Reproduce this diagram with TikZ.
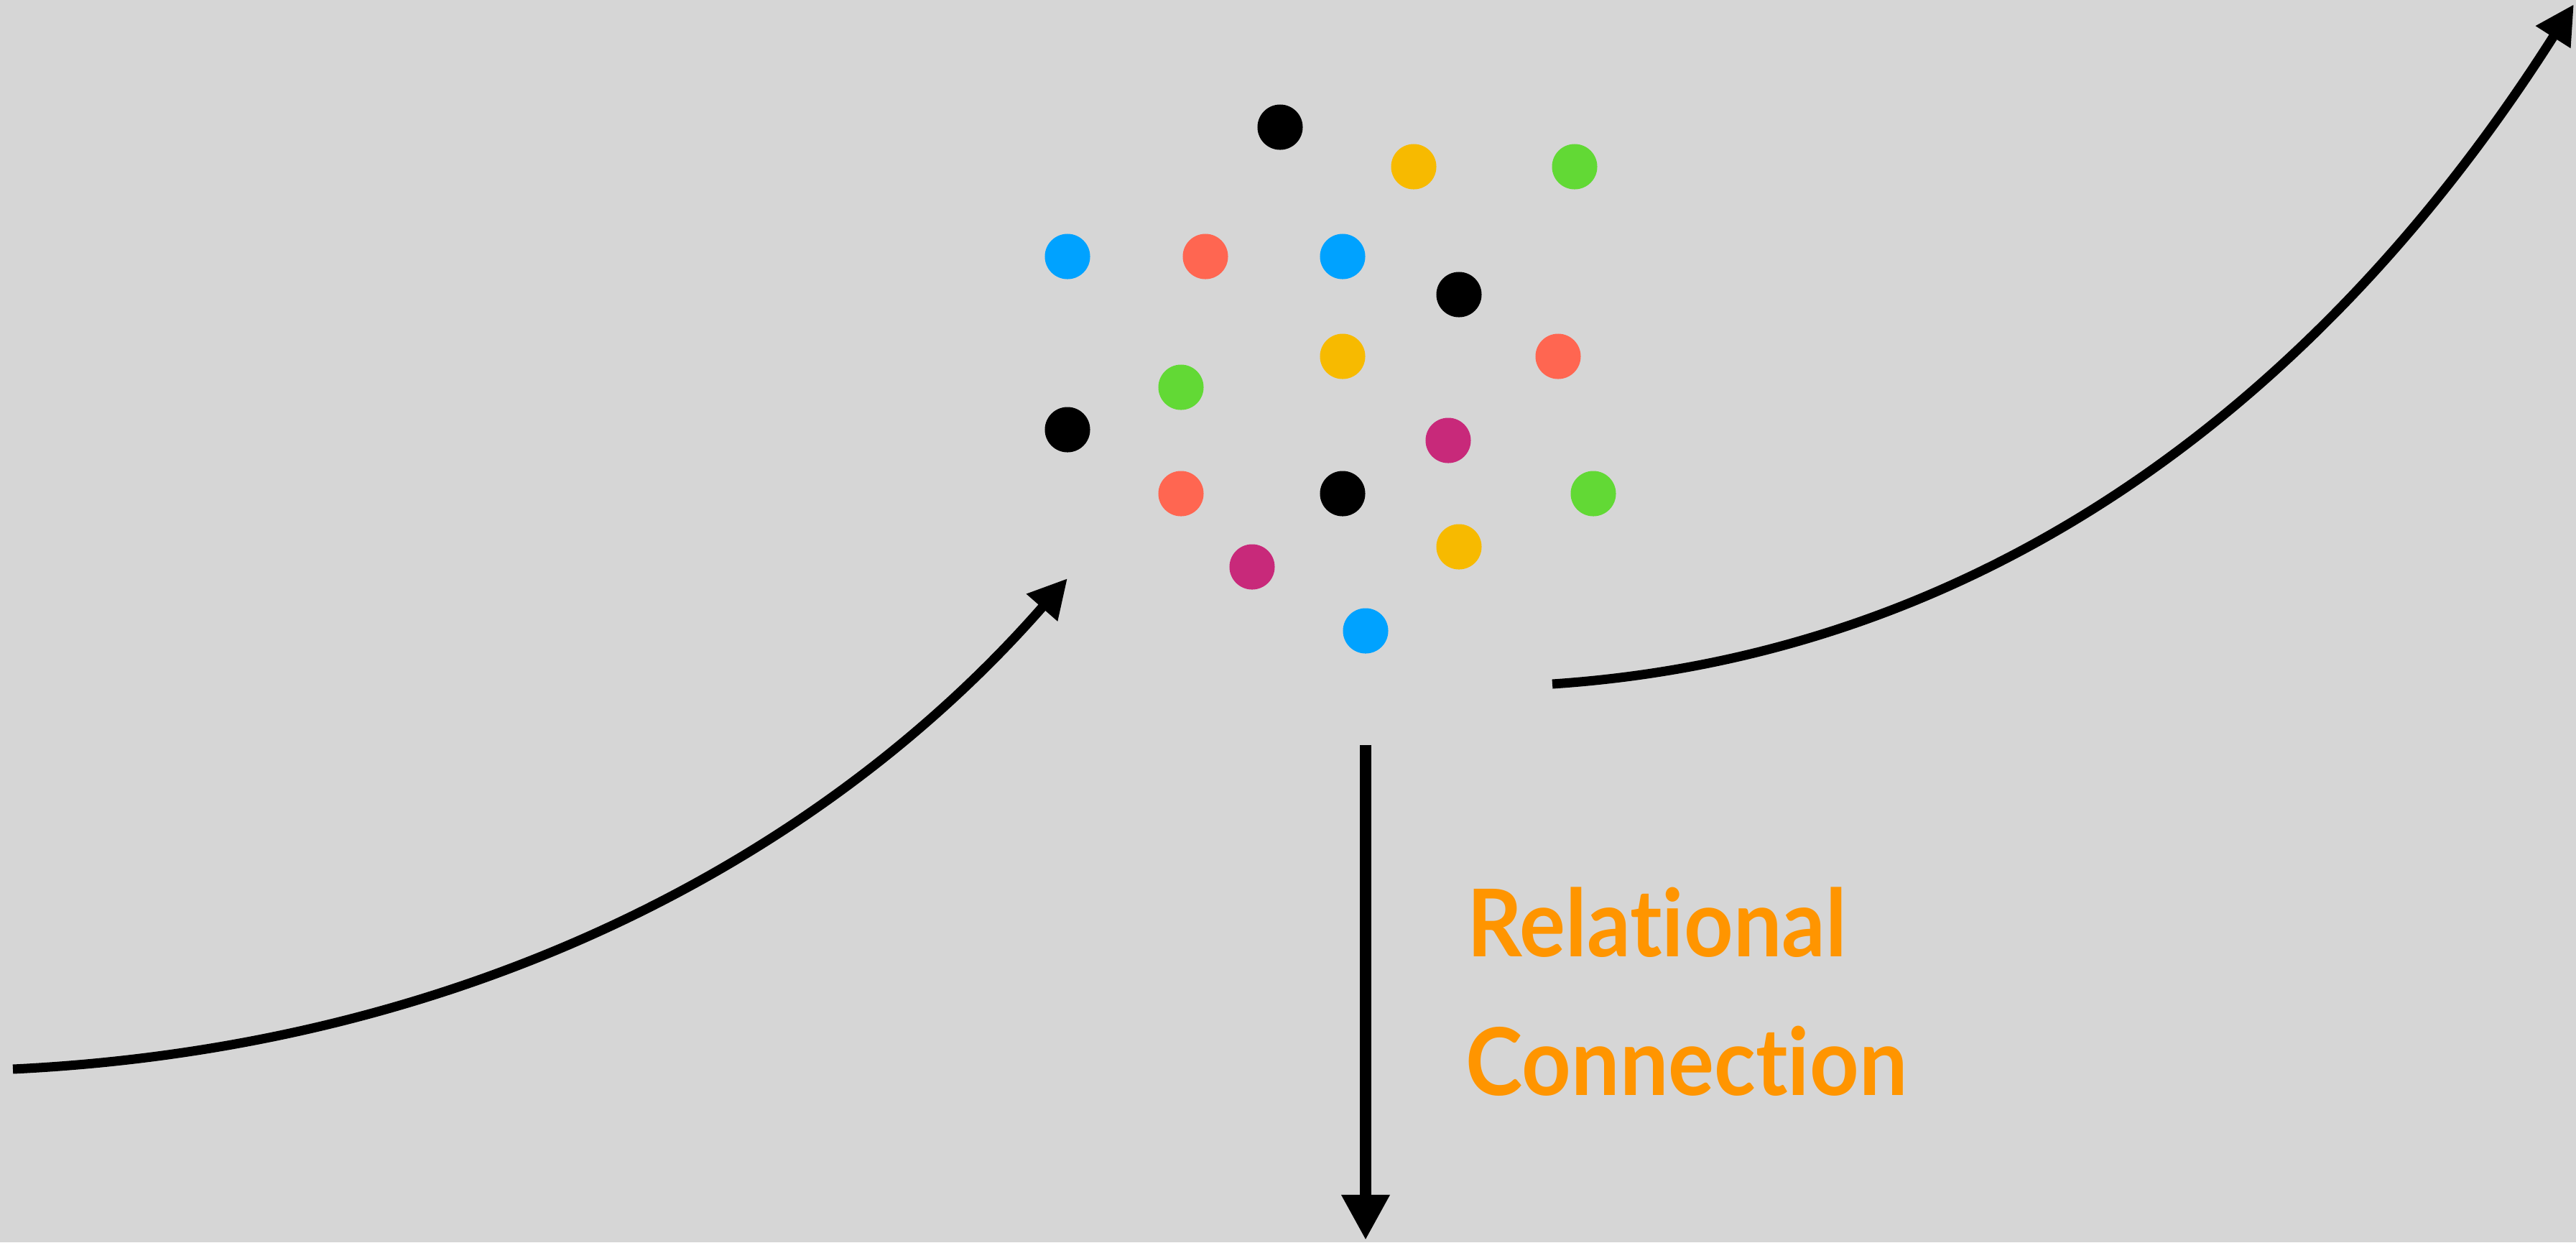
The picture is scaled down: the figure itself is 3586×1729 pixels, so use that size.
\documentclass[tikz,border=0pt]{standalone}
\usepackage{fontspec}
\newfontfamily\labelfont{Lato}[FakeStretch=0.92,Ligatures=NoCommon]
\usetikzlibrary{arrows.meta}

\definecolor{bgray}{HTML}{D6D6D6}
\definecolor{dblack}{HTML}{000000}
\definecolor{dyellow}{HTML}{F7BA00}
\definecolor{dgreen}{HTML}{62D935}
\definecolor{dblue}{HTML}{00A2FF}
\definecolor{dred}{HTML}{FF6651}
\definecolor{dmagenta}{HTML}{C8297A}
\definecolor{lorange}{HTML}{FF9500}

\begin{document}
\begin{tikzpicture}[x=0.01cm,y=-0.01cm,
    dot/.style={circle,inner sep=0pt,minimum size=0.63cm},
    flow/.style={line width=3.7pt,-{Triangle[length=0.54cm,width=0.54cm]}},
    label text/.style={inner sep=0pt,anchor=base west,text=lorange,font=\labelfont\bfseries\fontsize{37}{44}\selectfont}]
    \fill[bgray] (0,0) rectangle (3586,1729);
    \useasboundingbox (0,0) rectangle (3586,1729);

    % the cluster
    \node[dot, fill=dblack] at (1782, 177) (k1) {};
    \node[dot, fill=dyellow] at (1968, 232) (y1) {};
    \node[dot, fill=dgreen] at (2192, 232) (g1) {};
    \node[dot, fill=dblue] at (1486, 357) (b1) {};
    \node[dot, fill=dred] at (1678, 357) (r1) {};
    \node[dot, fill=dblue] at (1869, 357) (b2) {};
    \node[dot, fill=dblack] at (2031, 410) (k2) {};
    \node[dot, fill=dyellow] at (1869, 496) (y2) {};
    \node[dot, fill=dred] at (2169, 496) (r2) {};
    \node[dot, fill=dgreen] at (1644, 539) (g2) {};
    \node[dot, fill=dblack] at (1486, 598) (k3) {};
    \node[dot, fill=dmagenta] at (2016, 613) (m1) {};
    \node[dot, fill=dred] at (1644, 687) (r3) {};
    \node[dot, fill=dblack] at (1869, 687) (k4) {};
    \node[dot, fill=dgreen] at (2218, 687) (g3) {};
    \node[dot, fill=dyellow] at (2031, 761) (y3) {};
    \node[dot, fill=dmagenta] at (1743, 789) (m2) {};
    \node[dot, fill=dblue] at (1901, 878) (b3) {};

    % arrows in, out and down
    \coordinate (in start) at (18, 1488);
    \coordinate (in end) at (1486, 805);
    \coordinate (out start) at (2161, 952);
    \coordinate (out end) at (3583, 6);
    \coordinate (down start) at (1901, 1037);
    \coordinate (down end) at (1901, 1726);

    \draw[flow] (in start) .. controls (657, 1457) and (1150, 1189) .. (in end);
    \draw[flow] (out start) .. controls (2850, 906) and (3296, 458) .. (out end);
    \draw[line width=4.55pt, -{Triangle[length=0.63cm,width=0.63cm]}] (down start) -- (down end);

    \node[label text] at (2042, 1331) (rel) {Relational};
    \node[label text] at (2040, 1524) (con) {Connection};
\end{tikzpicture}
\end{document}
